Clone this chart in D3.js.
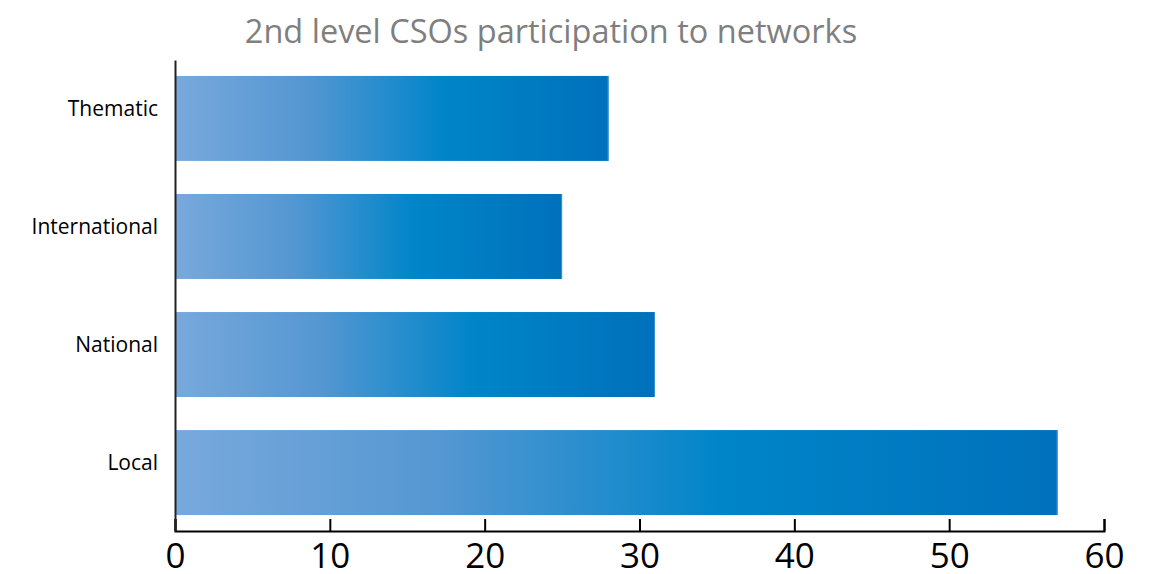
<!DOCTYPE html>
<html>
<head>
<meta charset="utf-8">
<script src="https://cdn.jsdelivr.net/npm/d3@7"></script>
<style>
  body { margin: 0; background: #fff; }
</style>
</head>
<body>
<div class="chart"></div>
<script>
// data
var categories = ["Thematic", "International", "National", "Local"];
var values = [28, 25, 31, 57];
var xTicks = [0, 10, 20, 30, 40, 50, 60];
var title = "2nd level CSOs participation to networks";

var W = 1160, H = 574;
var margin = { top: 60, right: 56, bottom: 43, left: 175 };
var width = W - margin.left - margin.right;
var height = H - margin.top - margin.bottom;

var svg = d3.select(".chart").append("svg")
    .attr("width", W)
    .attr("height", H);

// horizontal blue gradient used by every bar
var defs = svg.append("defs");
var grad = defs.append("linearGradient")
    .attr("id", "barGrad")
    .attr("x1", "0%").attr("x2", "100%")
    .attr("y1", "0%").attr("y2", "0%");
grad.append("stop").attr("offset", "0%").attr("stop-color", "#78a9dc");
grad.append("stop").attr("offset", "30%").attr("stop-color", "#5597d2");
grad.append("stop").attr("offset", "62%").attr("stop-color", "#0085c9");
grad.append("stop").attr("offset", "100%").attr("stop-color", "#0071bc");

var g = svg.append("g")
    .attr("transform", "translate(" + margin.left + "," + margin.top + ")");

var x = d3.scaleLinear()
    .domain([0, 60])
    .range([0, width]);

var y = d3.scaleBand()
    .domain(categories)
    .range([0, height])
    .paddingInner(0.28)
    .paddingOuter(0.135);

// bars
g.selectAll("rect.bar")
    .data(values)
    .enter()
    .append("rect")
    .attr("class", "bar")
    .attr("x", x(0))
    .attr("y", function (d, i) { return y(categories[i]); })
    .attr("width", function (d) { return x(d) - x(0); })
    .attr("height", y.bandwidth())
    .attr("fill", "url(#barGrad)");

// thin lighter edge on the right end of each bar
g.selectAll("line.edge")
    .data(values)
    .enter()
    .append("line")
    .attr("class", "edge")
    .attr("x1", function (d) { return x(d) - 0.5; })
    .attr("x2", function (d) { return x(d) - 0.5; })
    .attr("y1", function (d, i) { return y(categories[i]); })
    .attr("y2", function (d, i) { return y(categories[i]) + y.bandwidth(); })
    .attr("stroke", "#3d8fd0")
    .attr("stroke-width", 1);

//===============axis==============
var xAxisCall = d3.axisBottom(x)
    .tickValues(xTicks)
    .tickSizeInner(-12)
    .tickSizeOuter(-12)
    .tickPadding(12);

var xAxis = g.append("g")
    .attr("class", "x-axis")
    .attr("transform", "translate(0," + height + ")")
    .call(xAxisCall);
xAxis.select(".domain").attr("stroke", "#000").attr("stroke-width", 2);
xAxis.selectAll(".tick line").attr("stroke", "#000").attr("stroke-width", 2);
xAxis.selectAll("text")
    .attr("fill", "#000")
    .style("font-family", "'Open Sans', sans-serif")
    .style("font-size", "35px");

var yAxisCall = d3.axisLeft(y)
    .tickSize(0)
    .tickPadding(17);

var yAxis = g.append("g")
    .attr("class", "y-axis")
    .call(yAxisCall);
yAxis.select(".domain").attr("stroke", "#222").attr("stroke-width", 2);
yAxis.selectAll("text")
    .attr("fill", "#000")
    .attr("dy", "-0.1em")
    .style("font-family", "'Open Sans', sans-serif")
    .style("font-size", "21px");

// title
svg.append("text")
    .attr("x", 551)
    .attr("y", 43)
    .attr("text-anchor", "middle")
    .attr("fill", "#7f7f7f")
    .style("font-family", "'Open Sans', sans-serif")
    .style("font-size", "32.5px")
    .text(title);
</script>
</body>
</html>
